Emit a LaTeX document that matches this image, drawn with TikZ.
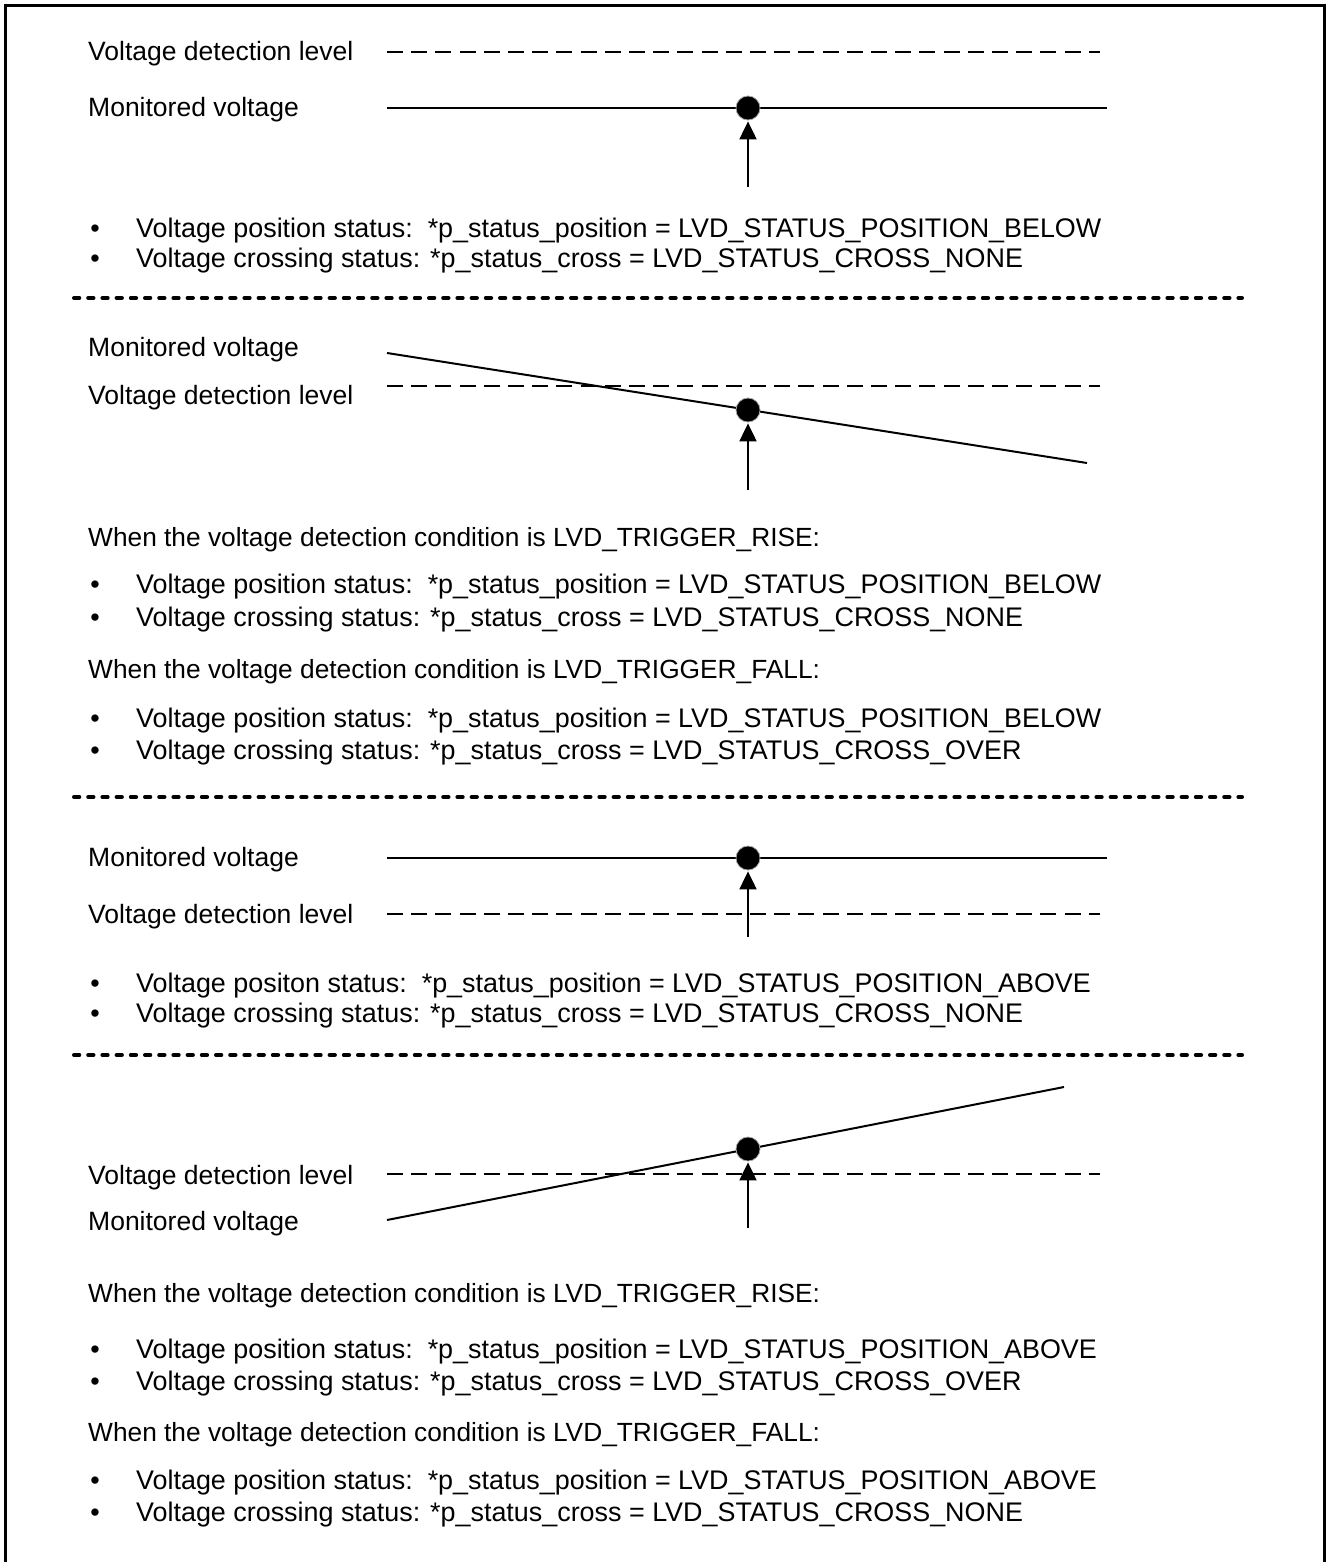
\documentclass[tikz,border=0pt]{standalone}
\usepackage{fontspec}
\setmainfont{Liberation Sans}
\usetikzlibrary{arrows.meta}

\tikzset{
	txt/.style={anchor=base west, inner sep=0pt, font=\fontsize{26.9}{30}\selectfont},
	lbl/.style={txt, font=\fontsize{26.5}{30}\selectfont},
	cond/.style={txt, font=\fontsize{26.3}{30}\selectfont},
	blt/.style={anchor=base, inner sep=0pt, font=\fontsize{26.9}{30}\selectfont},
	vdot/.style={shape=circle, fill=black, draw=black!35, line width=0.8pt, minimum size=24pt, inner sep=0pt},
	level/.style={line width=2.2pt, dash pattern=on 16pt off 8.2pt},
	volt/.style={line width=2pt},
	sep/.style={line width=4pt, line cap=round, dash pattern=on 5.3pt off 8.9pt},
	probe/.style={line width=2pt, shorten >=1pt, -{Triangle[length=18pt,width=17pt]}},
}

\begin{document}
\begin{tikzpicture}[x=1pt, y=-1pt]
	
	\useasboundingbox (0,0) rectangle (1327,1562);
	\draw[line width=3pt] (5,1562) -- (5,6) -- (1324,6) -- (1324,1562);
	
	% case 1: below the level, no crossing
	\node[lbl] (lvl1) at (88,61)  {Voltage detection level};
	\node[lbl] (mon1) at (88,117) {Monitored voltage};
	\coordinate (l1a) at (387,52);
	\coordinate (l1b) at (1100,52);
	\coordinate (m1a) at (387,108);
	\coordinate (m1b) at (1107,108);
	\coordinate (q1) at (748,187);
	\draw[level] (l1a) -- (l1b);
	\draw[volt] (m1a) -- (m1b);
	\node[vdot] (p1) at (748,108) {};
	\draw[probe] (q1) -- (p1);
	
	\node[blt] (b11) at (95,238) {\textbullet};
	\node[blt] (b12) at (95,267) {\textbullet};
	\node[txt] (s11) at (136,238) {Voltage position status:\ \ *p\_status\_position = LVD\_STATUS\_POSITION\_BELOW};
	\node[txt] (s12) at (136,267) {Voltage crossing status: *p\_status\_cross = LVD\_STATUS\_CROSS\_NONE};
	
	\coordinate (d1a) at (74,298);
	\coordinate (d1b) at (1242,298);
	\draw[sep] (d1a) -- (d1b);
	
	% case 2: falling through the level
	\node[lbl] (mon2) at (88,356) {Monitored voltage};
	\node[lbl] (lvl2) at (88,404) {Voltage detection level};
	\coordinate (l2a) at (387,386);
	\coordinate (l2b) at (1100,386);
	\coordinate (m2a) at (387,353);
	\coordinate (m2b) at (1087,463);
	\coordinate (q2) at (748,490);
	\draw[level] (l2a) -- (l2b);
	\draw[volt] (m2a) -- (m2b);
	\node[vdot] (p2) at (748,410) {};
	\draw[probe] (q2) -- (p2);
	
	\node[cond] (w21) at (88,546) {When the voltage detection condition is LVD\_TRIGGER\_RISE:};
	\node[blt] (b21) at (95,593) {\textbullet};
	\node[blt] (b22) at (95,626) {\textbullet};
	\node[txt] (s21) at (136,593) {Voltage position status:\ \ *p\_status\_position = LVD\_STATUS\_POSITION\_BELOW};
	\node[txt] (s22) at (136,626) {Voltage crossing status: *p\_status\_cross = LVD\_STATUS\_CROSS\_NONE};
	\node[cond] (w22) at (88,678) {When the voltage detection condition is LVD\_TRIGGER\_FALL:};
	\node[blt] (b23) at (95,727) {\textbullet};
	\node[blt] (b24) at (95,759) {\textbullet};
	\node[txt] (s23) at (136,727) {Voltage position status:\ \ *p\_status\_position = LVD\_STATUS\_POSITION\_BELOW};
	\node[txt] (s24) at (136,759) {Voltage crossing status: *p\_status\_cross = LVD\_STATUS\_CROSS\_OVER};
	
	\coordinate (d2a) at (74,797);
	\coordinate (d2b) at (1242,797);
	\draw[sep] (d2a) -- (d2b);
	
	% case 3: above the level, no crossing
	\node[lbl] (mon3) at (88,866) {Monitored voltage};
	\node[lbl] (lvl3) at (88,923) {Voltage detection level};
	\coordinate (l3a) at (387,914);
	\coordinate (l3b) at (1100,914);
	\coordinate (m3a) at (387,858);
	\coordinate (m3b) at (1107,858);
	\coordinate (q3) at (748,937);
	\draw[level] (l3a) -- (l3b);
	\draw[volt] (m3a) -- (m3b);
	\node[vdot] (p3) at (748,858) {};
	\draw[probe] (q3) -- (p3);
	
	\node[blt] (b31) at (95,992) {\textbullet};
	\node[blt] (b32) at (95,1022) {\textbullet};
	\node[txt] (s31) at (136,992) {Voltage positon status:\ \ *p\_status\_position = LVD\_STATUS\_POSITION\_ABOVE};
	\node[txt] (s32) at (136,1022) {Voltage crossing status: *p\_status\_cross = LVD\_STATUS\_CROSS\_NONE};
	
	\coordinate (d3a) at (74,1055);
	\coordinate (d3b) at (1242,1055);
	\draw[sep] (d3a) -- (d3b);
	
	% case 4: rising through the level
	\node[lbl] (lvl4) at (88,1184) {Voltage detection level};
	\node[lbl] (mon4) at (88,1230) {Monitored voltage};
	\coordinate (l4a) at (387,1174);
	\coordinate (l4b) at (1100,1174);
	\coordinate (m4a) at (387,1220);
	\coordinate (m4b) at (1064,1087);
	\coordinate (q4) at (748,1228);
	\draw[level] (l4a) -- (l4b);
	\draw[volt] (m4a) -- (m4b);
	\node[vdot] (p4) at (748,1149) {};
	\draw[probe] (q4) -- (p4);
	
	\node[cond] (w41) at (88,1302) {When the voltage detection condition is LVD\_TRIGGER\_RISE:};
	\node[blt] (b41) at (95,1358) {\textbullet};
	\node[blt] (b42) at (95,1390) {\textbullet};
	\node[txt] (s41) at (136,1358) {Voltage position status:\ \ *p\_status\_position = LVD\_STATUS\_POSITION\_ABOVE};
	\node[txt] (s42) at (136,1390) {Voltage crossing status: *p\_status\_cross = LVD\_STATUS\_CROSS\_OVER};
	\node[cond] (w42) at (88,1441) {When the voltage detection condition is LVD\_TRIGGER\_FALL:};
	\node[blt] (b43) at (95,1489) {\textbullet};
	\node[blt] (b44) at (95,1521) {\textbullet};
	\node[txt] (s43) at (136,1489) {Voltage position status:\ \ *p\_status\_position = LVD\_STATUS\_POSITION\_ABOVE};
	\node[txt] (s44) at (136,1521) {Voltage crossing status: *p\_status\_cross = LVD\_STATUS\_CROSS\_NONE};
	
\end{tikzpicture}
\end{document}
